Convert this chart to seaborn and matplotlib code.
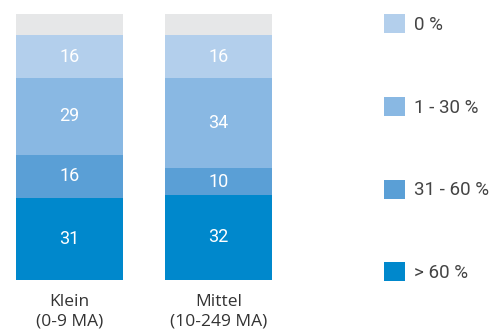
import matplotlib
matplotlib.use("Agg")
import matplotlib.pyplot as plt
import seaborn as sns
import pandas as pd
import numpy as np
from matplotlib.patches import Patch

categories = ["Klein\n(0-9 MA)", "Mittel\n(10-249 MA)"]
seg_labels = ["> 60 %", "31 - 60 %", "1 - 30 %", "0 %"]
v_gt60 = [31, 32]
v_31_60 = [16, 10]
v_1_30 = [29, 34]
v_0 = [16, 16]
seg_colors = ["#0088cc", "#5a9fd6", "#89b8e3", "#b3cfec"]
rest_color = "#e6e7e8"

sns.set_theme(style="white")
plt.rcParams["font.family"] = ["Open Sans", "DejaVu Sans"]

W, H = 498, 331
fig = plt.figure(figsize=(W / 100, H / 100), dpi=100)
# axes: bars from y=14 to y=280 px
ax = fig.add_axes([0, (H - 280) / H, 1, 266 / H])

series = [v_gt60, v_31_60, v_1_30, v_0]
cum = np.cumsum(np.array(series), axis=0)

# scale: px = 69.5 + 149*d
x0 = (0 - 69.5) / 149
x1 = (W - 69.5) / 149
bw = 107 / 149

# grey full bar (remainder to 100)
df_full = pd.DataFrame({"cat": categories, "val": [100, 100]})
sns.barplot(data=df_full, x="cat", y="val", color=rest_color, saturation=1,
            width=bw, ax=ax, linewidth=0)
for i in range(len(series) - 1, -1, -1):
    df = pd.DataFrame({"cat": categories, "val": cum[i]})
    sns.barplot(data=df, x="cat", y="val", color=seg_colors[i], saturation=1,
                width=bw, ax=ax, linewidth=0)

for j in range(len(categories)):
    bottom = 0
    for i, s in enumerate(series):
        ax.text(j, bottom + s[j] / 2, str(s[j]), ha="center", va="center",
                color="white", fontsize=13, family=["Roboto", "DejaVu Sans"])
        bottom += s[j]

ax.set_xlim(x0, x1)
ax.set_ylim(0, 100)
ax.set_xlabel("")
ax.set_ylabel("")
ax.set_yticks([])
ax.tick_params(axis="x", length=0, pad=10, labelsize=12.5, labelcolor="#333333")
for lbl in ax.get_xticklabels():
    lbl.set_linespacing(1.3)
for sp in ax.spines.values():
    sp.set_visible(False)

handles = [Patch(facecolor=seg_colors[i], edgecolor="none", label=seg_labels[i])
           for i in range(len(seg_labels) - 1, -1, -1)]
leg = fig.legend(handles=handles, loc="upper left",
                 bbox_to_anchor=(384 / W, 1 - 14 / H), frameon=False,
                 handlelength=1.1, handleheight=1.2,
                 handletextpad=0.5, labelspacing=3.35, borderpad=0,
                 borderaxespad=0, labelcolor="#444444",
                 prop={"family": ["Roboto", "DejaVu Sans"], "size": 13.5})

fig.savefig("out.png", dpi=100)
